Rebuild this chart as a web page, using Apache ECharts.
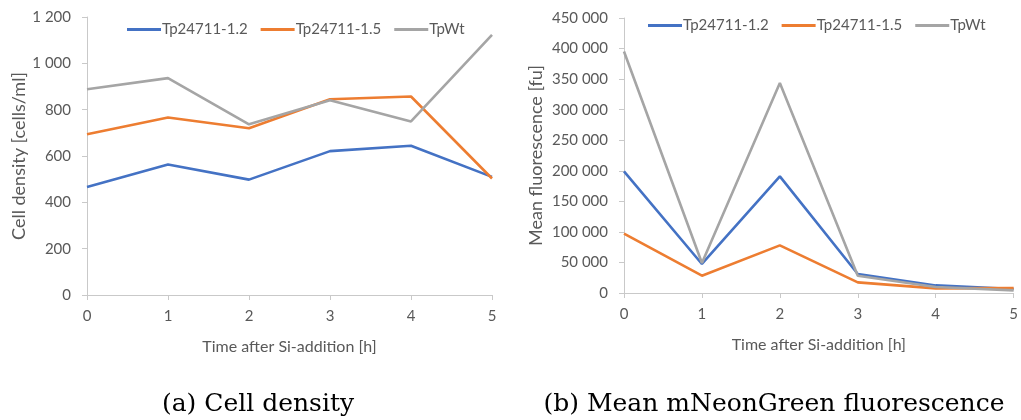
<!DOCTYPE html>
<html>
<head>
<meta charset="utf-8">
<script src="https://cdn.jsdelivr.net/npm/echarts@6/dist/echarts.min.js"></script>
<style>
  html, body { margin: 0; padding: 0; background: #fff; }
  #chart { width: 1021px; height: 420px; }
</style>
</head>
<body>
<div id="chart"></div>
<script>
// time points (h after Si addition)
const hours = ["0", "1", "2", "3", "4", "5"];
const seriesNames = ["Tp24711-1.2", "Tp24711-1.5", "TpWt"];

// (a) cell density [cells/ml]
const density12 = [466, 563, 498, 621, 644, 510];
const density15 = [694, 766, 720, 845, 857, 503];
const densityWt = [888, 936, 737, 841, 749, 1123];

// (b) mean mNeonGreen fluorescence [fu]
const fluor12 = [199000, 47500, 190800, 31100, 12400, 6500];
const fluor15 = [97000, 28300, 77900, 17400, 7500, 8000];
const fluorWt = [395300, 49000, 343600, 28300, 9800, 4300];

const captions = ["(a) Cell density", "(b) Mean mNeonGreen fluorescence"];

const colors = ["#4472C4", "#ED7D31", "#A5A5A5"];
const labelColor = "#595959";
const axisColor = "#c9c9c9";
const font = "Lato, 'Open Sans', sans-serif";

const spaced = (v) => String(v).replace(/\B(?=(\d{3})+(?!\d))/g, " ");

const chart = echarts.init(document.getElementById("chart"), null, { renderer: "canvas" });

function xAxisFor(gridIndex) {
  return {
    type: "category",
    gridIndex,
    data: hours,
    boundaryGap: false,
    name: "Time after Si-addition [h]",
    nameLocation: "middle",
    nameGap: 44,
    nameTextStyle: { color: labelColor, fontSize: 16, fontFamily: font },
    axisLine: { show: true, lineStyle: { color: axisColor, width: 1 } },
    axisTick: { show: true, length: 5, lineStyle: { color: axisColor } },
    axisLabel: { color: labelColor, fontSize: 15, fontFamily: font, margin: 14 },
    splitLine: { show: false },
  };
}

function yAxisFor(gridIndex, name, max, interval, nameGap) {
  return {
    type: "value",
    gridIndex,
    min: 0,
    max,
    interval,
    name,
    nameLocation: "middle",
    nameRotate: 90,
    nameGap,
    nameTextStyle: { color: labelColor, fontSize: 18, fontFamily: font },
    axisLine: { show: true, lineStyle: { color: axisColor, width: 1 } },
    axisTick: { show: true, length: 5, lineStyle: { color: axisColor } },
    axisLabel: { color: labelColor, fontSize: 15, fontFamily: font, margin: 16, formatter: spaced },
    splitLine: { show: false },
  };
}

function lineSeries(name, data, idx, axisIndex) {
  return {
    name,
    type: "line",
    xAxisIndex: axisIndex,
    yAxisIndex: axisIndex,
    data,
    symbol: "none",
    lineStyle: { width: 2.6, color: colors[idx] },
    itemStyle: { color: colors[idx] },
    animation: false,
  };
}

function legendFor(left, top) {
  return {
    left,
    top,
    icon: "rect",
    itemWidth: 34,
    itemHeight: 3,
    itemGap: 13,
    data: seriesNames,
    textStyle: { color: labelColor, fontSize: 15, fontFamily: font, padding: [0, 0, 0, -4] },
  };
}

const option = {
  backgroundColor: "#fff",
  animation: false,
  color: colors,
  grid: [
    { left: 87, top: 17, width: 405, height: 278, containLabel: false },
    { left: 624, top: 18, width: 393, height: 275, containLabel: false },
  ],
  legend: [
    { ...legendFor(122, 17), seriesIndex: [0, 1, 2] },
    { ...legendFor(643, 13), seriesIndex: [3, 4, 5] },
  ],
  xAxis: [xAxisFor(0), xAxisFor(1)],
  yAxis: [
    yAxisFor(0, "Cell density [cells/ml]", 1200, 200, 57),
    yAxisFor(1, "Mean fluorescence [fu]", 450000, 50000, 79),
  ],
  series: [
    lineSeries(seriesNames[0], density12, 0, 0),
    lineSeries(seriesNames[1], density15, 1, 0),
    lineSeries(seriesNames[2], densityWt, 2, 0),
    lineSeries(seriesNames[0], fluor12, 0, 1),
    lineSeries(seriesNames[1], fluor15, 1, 1),
    lineSeries(seriesNames[2], fluorWt, 2, 1),
  ],
  graphic: [
    {
      type: "text",
      x: 258,
      y: 404,
      style: {
        text: captions[0],
        align: "center",
        verticalAlign: "middle",
        fill: "#000",
        font: "25px 'DejaVu Serif', serif",
      },
    },
    {
      type: "text",
      x: 774,
      y: 404,
      style: {
        text: captions[1],
        align: "center",
        verticalAlign: "middle",
        fill: "#000",
        font: "25px 'DejaVu Serif', serif",
      },
    },
  ],
};

chart.setOption(option);
</script>
</body>
</html>
